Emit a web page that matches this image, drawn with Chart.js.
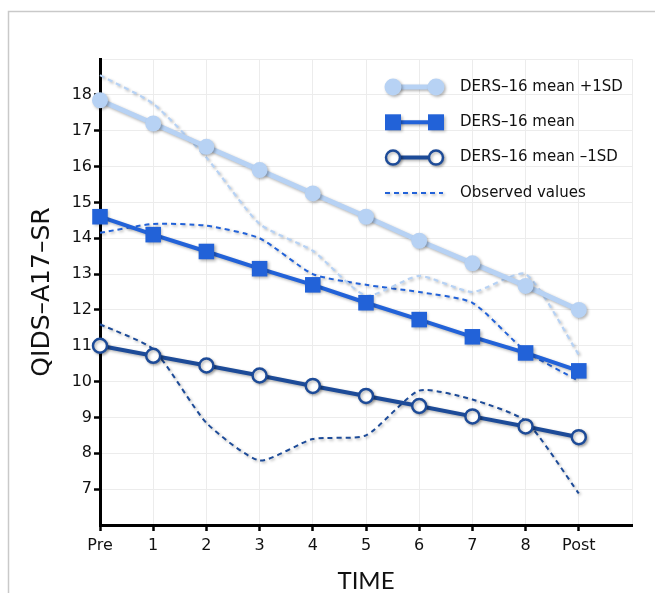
<!DOCTYPE html>
<html>
<head>
<meta charset="utf-8">
<script src="https://cdn.jsdelivr.net/npm/chart.js@4.4.1/dist/chart.umd.min.js"></script>
<style>
  html, body { margin: 0; padding: 0; background: #fff; }
  #wrap { width: 655px; height: 593px; }
</style>
</head>
<body>
<div id="wrap"><canvas id="myChart" width="655" height="593"></canvas></div>
<script>
// Dados
const timeLabels = ['Pre', '1', '2', '3', '4', '5', '6', '7', '8', 'Post'];
const plus1SD  = [17.85, 17.2, 16.55, 15.9, 15.25, 14.6, 13.93, 13.3, 12.67, 12.0];
const meanVals = [14.6, 14.1, 13.63, 13.15, 12.7, 12.2, 11.73, 11.25, 10.8, 10.3];
const minus1SD = [11.0, 10.72, 10.45, 10.17, 9.88, 9.6, 9.32, 9.03, 8.75, 8.45];
const obsPlus  = [18.55, 17.75, 16.25, 14.4, 13.65, 12.4, 12.95, 12.5, 13.0, 10.75];
const obsMean  = [14.15, 14.4, 14.35, 14.0, 13.0, 12.7, 12.5, 12.2, 10.85, 10.02];
const obsMinus = [11.6, 10.9, 8.85, 7.8, 8.4, 8.5, 9.75, 9.5, 8.9, 6.88];

const yTicks = [7, 8, 9, 10, 11, 12, 13, 14, 15, 16, 17, 18];

const LIGHT = '#b7d2f4';
const MID = '#2262d8';
const DARK = '#1d4b98';
const FONT = "'DejaVu Sans', sans-serif";

const toPoints = arr => arr.map((v, i) => ({ x: i, y: v }));

// sombra por baixo das linhas e marcadores
const shadowPlugin = {
    id: 'shadow',
    beforeDatasetDraw(chart) {
        const c = chart.ctx;
        c.save();
        c.shadowColor = 'rgba(0,0,0,0.3)';
        c.shadowBlur = 3;
        c.shadowOffsetX = 1.5;
        c.shadowOffsetY = 1.5;
    },
    afterDatasetDraw(chart) {
        chart.ctx.restore();
    }
};

// moldura cinza
const framePlugin = {
    id: 'frame',
    beforeDraw(chart) {
        const c = chart.ctx;
        c.save();
        c.strokeStyle = '#c9c9c9';
        c.lineWidth = 1.5;
        c.beginPath();
        c.moveTo(8.5, chart.height);
        c.lineTo(8.5, 11.5);
        c.lineTo(chart.width, 11.5);
        c.stroke();
        c.restore();
    }
};

// legenda dentro da área do gráfico
const legendPlugin = {
    id: 'insideLegend',
    afterDraw(chart) {
        const c = chart.ctx;
        const items = [
            { text: 'DERS\u201316 mean +1SD', kind: 'light' },
            { text: 'DERS\u201316 mean', kind: 'mid' },
            { text: 'DERS\u201316 mean \u20131SD', kind: 'dark' },
            { text: 'Observed values', kind: 'obs' }
        ];
        const x0 = 393, x1 = 436, textX = 460;
        let y = 87;
        items.forEach(it => {
            c.save();
            c.shadowColor = 'rgba(0,0,0,0.3)';
            c.shadowBlur = 3;
            c.shadowOffsetX = 1.5;
            c.shadowOffsetY = 1.5;
            if (it.kind === 'obs') {
                c.strokeStyle = MID;
                c.lineWidth = 2;
                c.setLineDash([5, 4]);
                c.beginPath();
                c.moveTo(385, y);
                c.lineTo(443, y);
                c.stroke();
            } else {
                const col = it.kind === 'light' ? LIGHT : it.kind === 'mid' ? MID : DARK;
                c.strokeStyle = col;
                c.lineWidth = it.kind === 'light' ? 5 : 4;
                c.beginPath();
                c.moveTo(x0, y);
                c.lineTo(x1, y);
                c.stroke();
                [x0, x1].forEach(px => {
                    c.beginPath();
                    if (it.kind === 'mid') {
                        c.fillStyle = col;
                        c.fillRect(px - 8, y - 8, 16, 16);
                    } else if (it.kind === 'light') {
                        c.fillStyle = col;
                        c.arc(px, y, 8.5, 0, Math.PI * 2);
                        c.fill();
                    } else {
                        c.fillStyle = '#fff';
                        c.lineWidth = 2.5;
                        c.arc(px, y, 7, 0, Math.PI * 2);
                        c.fill();
                        c.stroke();
                    }
                });
            }
            c.restore();
            c.save();
            c.fillStyle = '#111';
            c.font = '15px ' + FONT;
            c.textBaseline = 'middle';
            c.fillText(it.text, textX, y);
            c.restore();
            y += 35.3;
        });
    }
};

const ctx = document.getElementById('myChart').getContext('2d');

const config = {
    type: 'line',
    data: {
        datasets: [
            {
                label: 'Observed +1SD',
                data: toPoints(obsPlus),
                borderColor: LIGHT,
                borderWidth: 2.2,
                borderDash: [5, 4],
                pointRadius: 0,
                tension: 0.2,
                order: 3
            },
            {
                label: 'Observed mean',
                data: toPoints(obsMean),
                borderColor: MID,
                borderWidth: 2,
                borderDash: [5, 4],
                pointRadius: 0,
                tension: 0.2,
                order: 3
            },
            {
                label: 'Observed -1SD',
                data: toPoints(obsMinus),
                borderColor: DARK,
                borderWidth: 2,
                borderDash: [5, 4],
                pointRadius: 0,
                tension: 0.2,
                order: 3
            },
            {
                label: 'DERS\u201316 mean +1SD',
                data: toPoints(plus1SD),
                borderColor: LIGHT,
                backgroundColor: LIGHT,
                borderWidth: 5,
                pointStyle: 'circle',
                pointRadius: 8,
                pointBorderWidth: 0,
                pointBackgroundColor: LIGHT,
                tension: 0,
                order: 1
            },
            {
                label: 'DERS\u201316 mean',
                data: toPoints(meanVals),
                borderColor: MID,
                backgroundColor: MID,
                borderWidth: 4,
                pointStyle: 'rect',
                pointRadius: 11,
                pointBorderWidth: 0,
                pointBackgroundColor: MID,
                tension: 0,
                order: 1
            },
            {
                label: 'DERS\u201316 mean \u20131SD',
                data: toPoints(minus1SD),
                borderColor: DARK,
                borderWidth: 4,
                pointStyle: 'circle',
                pointRadius: 7,
                pointBorderWidth: 2.5,
                pointBorderColor: DARK,
                pointBackgroundColor: '#fff',
                tension: 0,
                order: 1
            }
        ]
    },
    options: {
        responsive: false,
        animation: false,
        clip: false,
        layout: { padding: { top: 59, right: 23, left: 0, bottom: 0 } },
        plugins: {
            legend: { display: false },
            tooltip: { enabled: false }
        },
        scales: {
            x: {
                type: 'linear',
                min: 0,
                max: 10,
                afterFit: s => { s.height = 68; },
                afterBuildTicks: s => { s.ticks = timeLabels.map((_, i) => ({ value: i })).concat([{ value: 10 }]); },
                border: { color: '#000', width: 3 },
                grid: {
                    color: '#ececec',
                    lineWidth: 1,
                    tickLength: 6,
                    tickColor: c => (c.tick && c.tick.value < 10) ? '#000' : 'rgba(0,0,0,0)',
                    tickWidth: 2.5
                },
                ticks: {
                    padding: 5,
                    color: '#111',
                    font: { family: FONT, size: 16 },
                    maxRotation: 0,
                    autoSkip: false,
                    callback: v => timeLabels[v] !== undefined ? timeLabels[v] : ''
                },
                title: {
                    display: true,
                    text: 'TIME',
                    color: '#111',
                    font: { family: "Lato, 'Open Sans', sans-serif", size: 24, lineHeight: 1 },
                    padding: { top: 0, bottom: 0 }
                }
            },
            y: {
                type: 'linear',
                min: 6,
                max: 19,
                afterFit: s => { s.width = 100; },
                afterBuildTicks: s => { s.ticks = [6].concat(yTicks, [19]).map(v => ({ value: v })); },
                border: { color: '#000', width: 3 },
                grid: {
                    color: '#ececec',
                    lineWidth: 1,
                    tickLength: 6,
                    tickColor: c => (c.tick && yTicks.includes(c.tick.value)) ? '#000' : 'rgba(0,0,0,0)',
                    tickWidth: 2.5
                },
                ticks: {
                    padding: 2,
                    color: '#111',
                    font: { family: FONT, size: 16 },
                    callback: v => yTicks.includes(v) ? String(v) : ''
                },
                title: {
                    display: true,
                    text: 'QIDS\u2013A17\u2013SR',
                    color: '#111',
                    font: { family: FONT, size: 25, lineHeight: 1 },
                    padding: { top: 30, bottom: 0 }
                }
            }
        }
    },
    plugins: [framePlugin, shadowPlugin, legendPlugin]
};

const myChart = new Chart(ctx, config);
</script>
</body>
</html>
